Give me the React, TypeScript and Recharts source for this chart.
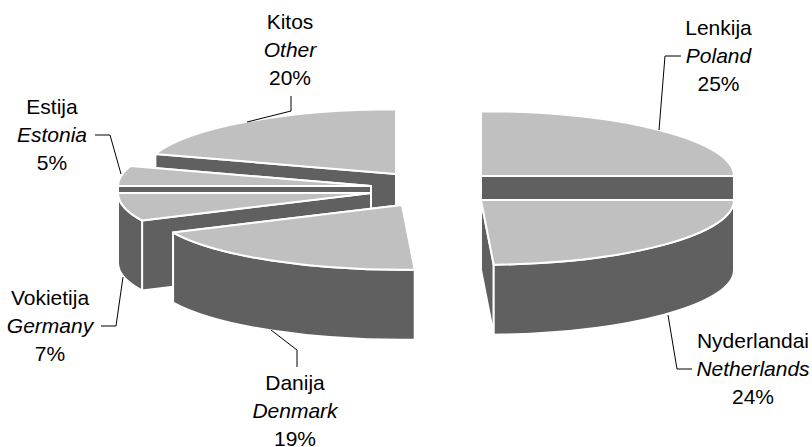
import React from "react";
import { PieChart, Pie } from "recharts";

// Slices in back-to-front drawing order, counter-clockwise from the 3 o'clock axis.
const namesLt = ["Lenkija", "Kitos", "Estija", "Vokietija", "Danija", "Nyderlandai"];
const namesEn = ["Poland", "Other", "Estonia", "Germany", "Denmark", "Netherlands"];
const shares = [25, 20, 5, 7, 18.8, 24.2];

const TOP = "#C0C0C0";
const WALL = "#606060";
const SQUASH = 0.256;
const DEPTH = 70;
const EDGE = 2;
const FONT = "'Liberation Sans', Arial, sans-serif";

// Exploded-slice offsets from the pie centre (layout only).
const explode = [
  [61, -14],
  [-24, -16],
  [-49, -4],
  [-49, 3],
  [-18, 15],
  [61, 10],
];

// Label layout: centre x, first baseline, leader line.
const labelLayout = [
  { x: 718.5, y: 35, line: "659,130 665,56 681,56" },
  { x: 290, y: 29, line: "247,122 291,111 291,96" },
  { x: 52, y: 114, line: "121,174 110,135 95,135" },
  { x: 50, y: 305, line: "123,277 116,326 101,326" },
  { x: 295, y: 390, line: "271,330 297,350 297,367" },
  { x: 753, y: 348, line: "668,315 677,369 692,369" },
];

const rad = (d: number) => (d * Math.PI) / 180;

function SliceShape(props: any) {
  const { cx, cy, outerRadius, startAngle, endAngle, index } = props;
  const i = index ?? namesEn.indexOf(props.name);
  const [dx, dy] = explode[i];
  const ax = cx + dx;
  const ay = cy + dy;
  const rx = outerRadius;
  const ry = outerRadius * SQUASH;
  const pt = (a: number): [number, number] => [ax + rx * Math.cos(rad(a)), ay - ry * Math.sin(rad(a))];
  const [x1, y1] = pt(startAngle);
  const [x2, y2] = pt(endAngle);
  const large = endAngle - startAngle > 180 ? 1 : 0;
  const top = `M${ax},${ay} L${x1},${y1} A${rx},${ry} 0 ${large} 0 ${x2},${y2} Z`;

  const face = (x: number, y: number) =>
    `M${ax},${ay} L${x},${y} L${x},${y + DEPTH} L${ax},${ay + DEPTH} Z`;
  const faces = [
    { y: y1, d: face(x1, y1) },
    { y: y2, d: face(x2, y2) },
  ].sort((a, b) => a.y - b.y);

  const wallStart = Math.max(startAngle, 180);
  const wallEnd = Math.min(endAngle, 360);
  let wall = "";
  if (wallEnd > wallStart) {
    const [wx1, wy1] = pt(wallStart);
    const [wx2, wy2] = pt(wallEnd);
    wall = `M${wx1},${wy1} A${rx},${ry} 0 0 0 ${wx2},${wy2} L${wx2},${wy2 + DEPTH} A${rx},${ry} 0 0 1 ${wx1},${wy1 + DEPTH} Z`;
  }
  return (
    <g>
      {faces.map((f, k) => (
        <path key={k} d={f.d} fill={WALL} stroke="#fff" strokeWidth={EDGE} strokeLinejoin="round" />
      ))}
      {wall && <path d={wall} fill={WALL} stroke="#fff" strokeWidth={EDGE} strokeLinejoin="round" />}
      <path d={top} fill={TOP} stroke="#fff" strokeWidth={EDGE} strokeLinejoin="round" />
    </g>
  );
}

function SliceLabel(props: any) {
  const { index, value } = props;
  const l = labelLayout[index];
  return (
    <g>
      <polyline points={l.line} fill="none" stroke="#000" strokeWidth={1} />
      <text x={l.x} y={l.y} textAnchor="middle" fontFamily={FONT} fontSize={21} fill="#000">
        {namesLt[index]}
      </text>
      <text x={l.x} y={l.y + 28} textAnchor="middle" fontFamily={FONT} fontSize={21} fontStyle="italic" fill="#000">
        {namesEn[index]}
      </text>
      <text x={l.x} y={l.y + 56} textAnchor="middle" fontFamily={FONT} fontSize={21} fill="#000">
        {`${Math.round(value)}%`}
      </text>
    </g>
  );
}

const data = namesEn.map((name, i) => ({ name, value: shares[i] }));

export default function App() {
  return (
    <div style={{ position: "absolute", left: 0, top: 0, width: 812, height: 447 }}>
      <PieChart width={812} height={447} margin={{ top: 0, right: 0, bottom: 0, left: 0 }}>
        <Pie
          data={data}
          dataKey="value"
          nameKey="name"
          cx={420}
          cy={190}
          innerRadius={0}
          outerRadius={253}
          startAngle={0}
          endAngle={360}
          stroke="none"
          isAnimationActive={false}
          shape={SliceShape}
          label={SliceLabel}
          labelLine={false}
          legendType="none"
        />
      </PieChart>
    </div>
  );
}
